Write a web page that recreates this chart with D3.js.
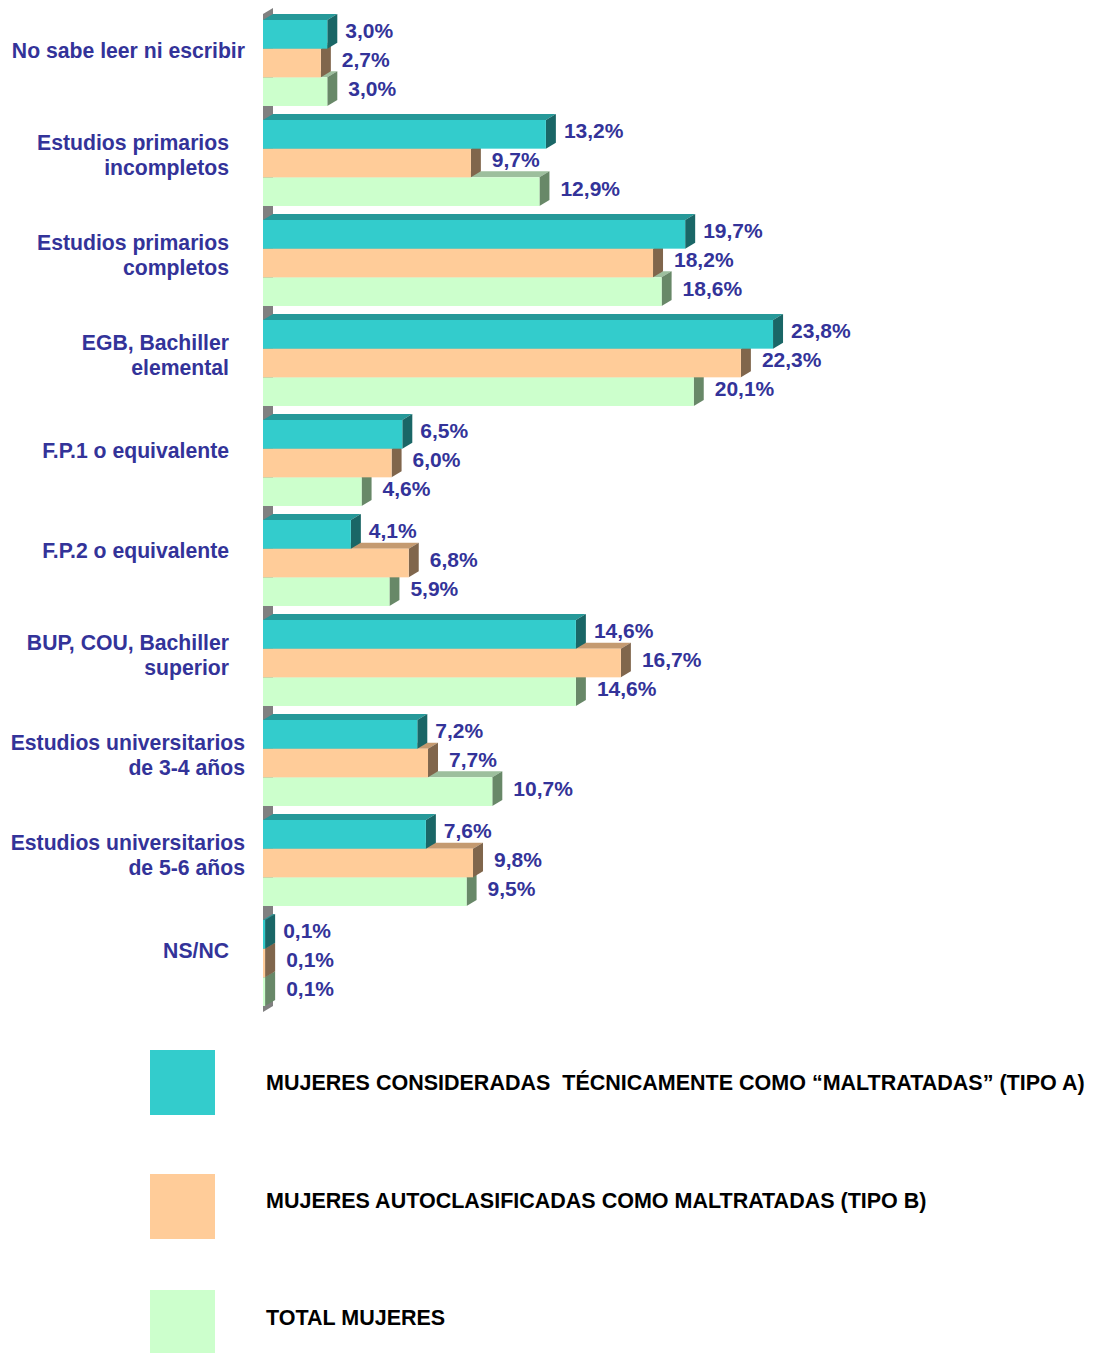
<!DOCTYPE html>
<html>
<head>
<meta charset="utf-8">
<script src="https://cdn.jsdelivr.net/npm/d3@7"></script>
<style>
  body { margin: 0; background: #fff; }
  svg text { font-family: "Liberation Sans", Arial, sans-serif; font-weight: bold; }
</style>
</head>
<body>
<svg width="1094" height="1353"></svg>
<script>
var categories = [
  "No sabe leer ni escribir",
  "Estudios primarios|incompletos",
  "Estudios primarios|completos",
  "EGB, Bachiller|elemental",
  "F.P.1 o equivalente",
  "F.P.2 o equivalente",
  "BUP, COU, Bachiller|superior",
  "Estudios universitarios|de 3-4 años",
  "Estudios universitarios|de 5-6 años",
  "NS/NC"
];

var seriesNames = [
  "MUJERES CONSIDERADAS  TÉCNICAMENTE COMO “MALTRATADAS” (TIPO A)",
  "MUJERES AUTOCLASIFICADAS COMO MALTRATADAS (TIPO B)",
  "TOTAL MUJERES"
];

var tipoA = [3.0, 13.2, 19.7, 23.8, 6.5, 4.1, 14.6, 7.2, 7.6, 0.1];
var tipoB = [2.7, 9.7, 18.2, 22.3, 6.0, 6.8, 16.7, 7.7, 9.8, 0.1];
var total = [3.0, 12.9, 18.6, 20.1, 4.6, 5.9, 14.6, 10.7, 9.5, 0.1];

var seriesValues = [tipoA, tipoB, total];

// front, top, side
var palette = [
  { front: "#33cccc", top: "#269999", side: "#1a6666" },
  { front: "#ffcc99", top: "#c49a70", side: "#80664c" },
  { front: "#ccffcc", top: "#9dbf9d", side: "#688868" }
];

var depthX = 10, depthY = 6;
var svg = d3.select("svg");

var x = d3.scaleLinear().domain([0, 25]).range([263, 263 + 25 * 21.43]);

var y = d3.scaleBand()
  .domain(d3.range(categories.length))
  .range([20, 1006])
  .paddingInner(0.14)
  .paddingOuter(0);

var ySub = d3.scaleBand()
  .domain(d3.range(seriesValues.length))
  .range([0, y.bandwidth()]);

// left wall
var x0 = x(0);
svg.append("path")
  .attr("fill", "#808080")
  .attr("d", "M" + x0 + "," + 1012 + "L" + x0 + "," + 14 +
    "L" + (x0 + depthX) + "," + (14 - depthY) + "L" + (x0 + depthX) + "," + (1012 - depthY) + "Z");

// bars, bottom ones first so upper ones cover their top faces
var bars = [];
for (var c = categories.length - 1; c >= 0; c--) {
  for (var s = seriesValues.length - 1; s >= 0; s--) {
    bars.push({ c: c, s: s, v: seriesValues[s][c] });
  }
}

var g = svg.append("g").selectAll("g")
  .data(bars)
  .enter().append("g");

function barTop(d) { return y(d.c) + ySub(d.s); }

g.append("path")
  .attr("fill", function(d) { return palette[d.s].top; })
  .attr("d", function(d) {
    var t = barTop(d), x1 = x(d.v);
    return "M" + x0 + "," + t + "L" + (x0 + depthX) + "," + (t - depthY) +
      "L" + (x1 + depthX) + "," + (t - depthY) + "L" + x1 + "," + t + "Z";
  });

g.append("path")
  .attr("fill", function(d) { return palette[d.s].side; })
  .attr("d", function(d) {
    var t = barTop(d), b = t + ySub.bandwidth(), x1 = x(d.v);
    return "M" + x1 + "," + t + "L" + (x1 + depthX) + "," + (t - depthY) +
      "L" + (x1 + depthX) + "," + (b - depthY) + "L" + x1 + "," + b + "Z";
  });

g.append("rect")
  .attr("x", x0)
  .attr("y", barTop)
  .attr("width", function(d) { return x(d.v) - x0; })
  .attr("height", ySub.bandwidth())
  .attr("fill", function(d) { return palette[d.s].front; });

// value labels
svg.append("g").selectAll("text")
  .data(bars)
  .enter().append("text")
    .attr("x", function(d) { return x(d.v) + depthX + 8 + (d.s > 0 ? 3 : 0); })
    .attr("y", function(d) { return barTop(d) + ySub.bandwidth() / 2 + 4; })
    .attr("font-size", 21)
    .attr("fill", "#333399")
    .text(function(d) { return d.v.toFixed(1).replace(".", ",") + "%"; });

// category labels
var catLabels = svg.append("g").selectAll("text")
  .data(categories)
  .enter().append("text")
    .attr("font-size", 21.2)
    .attr("fill", "#333399")
    .attr("text-anchor", "end");

catLabels.each(function(d, i) {
  var lines = d.split("|");
  var el = d3.select(this);
  var mid = y(i) + y.bandwidth() / 2 - 8 - (lines.length == 1 ? 5 : 0);
  lines.forEach(function(line, j) {
    el.append("tspan")
      .attr("y", mid + 7.5 + (j - (lines.length - 1) / 2) * 25)
      .text(line);
  });
  var w = 0;
  el.selectAll("tspan").each(function() { w = Math.max(w, this.getComputedTextLength()); });
  el.selectAll("tspan").attr("x", w > 215 ? 245 : 229);
});

// legend
var legendY = [1050, 1174, 1290];
var legendTextY = [1090, 1208, 1325];
var legend = svg.append("g").selectAll("g")
  .data(seriesNames)
  .enter().append("g");

legend.append("rect")
  .attr("x", 150)
  .attr("y", function(d, i) { return legendY[i]; })
  .attr("width", 65)
  .attr("height", 65)
  .attr("fill", function(d, i) { return palette[i].front; });

legend.append("text")
  .attr("x", 266)
  .attr("y", function(d, i) { return legendTextY[i]; })
  .attr("font-size", 21.5)
  .attr("fill", "#000")
  .style("white-space", "pre")
  .text(function(d) { return d; });
</script>
</body>
</html>
